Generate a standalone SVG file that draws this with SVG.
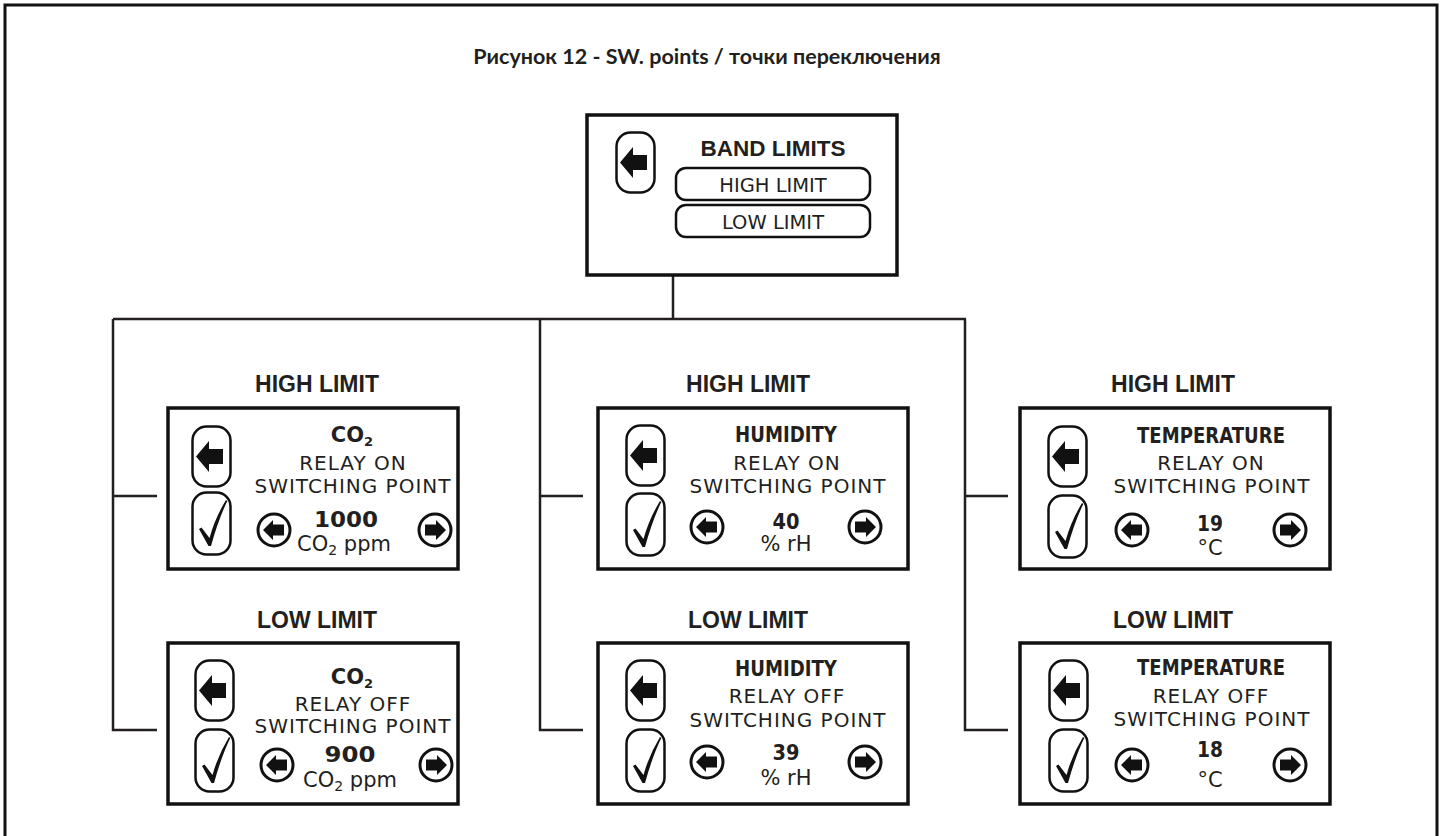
<svg xmlns="http://www.w3.org/2000/svg" xmlns:xlink="http://www.w3.org/1999/xlink" width="1448" height="836" viewBox="0 0 1448 836">
<style>
.frame{fill:none;stroke:#111;stroke-width:3}
.box{fill:#fff;stroke:#111;stroke-width:3.5}
.conn{fill:none;stroke:#231f20;stroke-width:2.5}
.btn{fill:#fff;stroke:#111;stroke-width:2.5}
.ink{fill:#111}
.title{font-family:Lato,"Liberation Sans",sans-serif;font-weight:bold;font-size:21.5px;fill:#231f20;text-anchor:middle}
.lbl{font-family:"Liberation Sans",Arial,sans-serif;font-weight:bold;font-size:23px;fill:#231f20;text-anchor:middle}
.hd{font-family:"Liberation Sans",Arial,sans-serif;font-weight:bold;font-size:22.5px;fill:#231f20;text-anchor:middle}
.cb{font-family:"DejaVu Sans",sans-serif;font-weight:bold;font-size:21px;fill:#231f20;text-anchor:middle}
.val{font-family:"DejaVu Sans",sans-serif;font-weight:bold;font-size:21px;fill:#231f20;text-anchor:middle}
.rg{font-family:"DejaVu Sans",sans-serif;font-size:20px;letter-spacing:1px;fill:#231f20;text-anchor:middle}
.un{font-family:"DejaVu Sans",sans-serif;font-size:21px;fill:#231f20;text-anchor:middle}
.pl{font-family:"DejaVu Sans",sans-serif;font-size:19.5px;fill:#231f20;text-anchor:middle}
</style>
<defs>
<symbol id="back" viewBox="0 0 41 63" width="41" height="63" overflow="visible">
<rect class="btn" x="1.5" y="1.5" width="38" height="60" rx="14"/>
<polygon class="ink" points="5,31.5 18,16 18,24 32,24 32,39 18,39 18,47"/>
</symbol>
<symbol id="check" viewBox="0 0 41 65" width="41" height="65" overflow="visible">
<rect class="btn" x="1.5" y="1.5" width="38" height="62" rx="14"/>
<path class="ink" d="M8,38 L10.5,36.5 L18.5,47 Q24,27 35,9 L36.3,10 Q27.5,28 20,55 L17.5,55 Z"/>
</symbol>
<symbol id="cl" viewBox="-18 -18 36 36" width="36" height="36" overflow="visible">
<circle cx="0" cy="0" r="16" fill="#fff" stroke="#111" stroke-width="3"/>
<polygon class="ink" points="-11,0 -1,-10 -1,-5.5 10,-5.5 10,5.5 -1,5.5 -1,10"/>
</symbol>
<symbol id="cr" viewBox="-18 -18 36 36" width="36" height="36" overflow="visible">
<circle cx="0" cy="0" r="16" fill="#fff" stroke="#111" stroke-width="3"/>
<polygon class="ink" points="11,0 1,-10 1,-5.5 -10,-5.5 -10,5.5 1,5.5 1,10"/>
</symbol>
</defs>
<rect width="1448" height="836" fill="#fff"/>
<rect class="frame" x="5" y="5" width="1432" height="850"/>
<text class="title" x="707" y="64">Рисунок 12 - SW. points / точки переключения</text>

<g id="connectors">
<line class="conn" x1="673" y1="275" x2="673" y2="319"/>
<line class="conn" x1="113" y1="319" x2="966" y2="319"/>
<polyline class="conn" points="157,496 113,496"/>
<polyline class="conn" points="113,319 113,730 157,730"/>
<polyline class="conn" points="583,496 540,496"/>
<polyline class="conn" points="540,319 540,730 583,730"/>
<polyline class="conn" points="1008,496 965,496"/>
<polyline class="conn" points="965,319 965,730 1008,730"/>
</g>

<g id="band-limits">
<rect class="box" x="587" y="115" width="310" height="160"/>
<use xlink:href="#back" x="615" y="129" width="41" height="67"/>
<text class="hd" x="773" y="156">BAND LIMITS</text>
<rect class="btn" x="676" y="168" width="194" height="32" rx="10"/>
<text class="pl" x="773" y="192">HIGH LIMIT</text>
<rect class="btn" x="676" y="205" width="194" height="32" rx="10"/>
<text class="pl" x="773" y="229">LOW LIMIT</text>
</g>

<g id="co2-high">
<text class="lbl" x="317" y="392">HIGH LIMIT</text>
<rect class="box" x="168" y="408" width="290" height="161"/>
<use xlink:href="#back" x="191" y="425"/>
<use xlink:href="#check" x="191" y="491"/>
<text class="cb" x="352" y="442">CO<tspan font-size="13" dy="4">2</tspan></text>
<text class="rg" x="353" y="470">RELAY ON</text>
<text class="rg" x="353" y="493">SWITCHING POINT</text>
<text class="val" x="346" y="527" textLength="64" lengthAdjust="spacingAndGlyphs">1000</text>
<text class="un" x="344" y="551">CO<tspan font-size="14" dy="4">2</tspan><tspan dy="-4"> ppm</tspan></text>
<use xlink:href="#cl" x="256" y="512"/>
<use xlink:href="#cr" x="417" y="512"/>
</g>

<g id="humidity-high">
<text class="lbl" x="748" y="392">HIGH LIMIT</text>
<rect class="box" x="598" y="408" width="310" height="161"/>
<use xlink:href="#back" x="625" y="424"/>
<use xlink:href="#check" x="625" y="492"/>
<text class="cb" x="786" y="442" textLength="102" lengthAdjust="spacingAndGlyphs">HUMIDITY</text>
<text class="rg" x="787" y="470">RELAY ON</text>
<text class="rg" x="788" y="493">SWITCHING POINT</text>
<text class="val" x="786" y="529" textLength="27" lengthAdjust="spacingAndGlyphs">40</text>
<text class="un" x="786" y="551">% rH</text>
<use xlink:href="#cl" x="689" y="509"/>
<use xlink:href="#cr" x="847" y="509"/>
</g>

<g id="temperature-high">
<text class="lbl" x="1173" y="392">HIGH LIMIT</text>
<rect class="box" x="1020" y="408" width="310" height="161"/>
<use xlink:href="#back" x="1047" y="425"/>
<use xlink:href="#check" x="1047" y="494"/>
<text class="cb" x="1211" y="443" textLength="148" lengthAdjust="spacingAndGlyphs">TEMPERATURE</text>
<text class="rg" x="1211" y="470">RELAY ON</text>
<text class="rg" x="1212" y="493">SWITCHING POINT</text>
<text class="val" x="1210" y="531" textLength="26" lengthAdjust="spacingAndGlyphs">19</text>
<text class="un" x="1210" y="555">°C</text>
<use xlink:href="#cl" x="1114" y="512"/>
<use xlink:href="#cr" x="1272" y="512"/>
</g>

<g id="co2-low">
<text class="lbl" x="317" y="628">LOW LIMIT</text>
<rect class="box" x="168" y="643" width="290" height="161"/>
<use xlink:href="#back" x="194" y="659"/>
<use xlink:href="#check" x="194" y="728"/>
<text class="cb" x="352" y="684">CO<tspan font-size="13" dy="4">2</tspan></text>
<text class="rg" x="353" y="711">RELAY OFF</text>
<text class="rg" x="353" y="733">SWITCHING POINT</text>
<text class="val" x="350" y="762" textLength="51" lengthAdjust="spacingAndGlyphs">900</text>
<text class="un" x="350" y="787">CO<tspan font-size="14" dy="4">2</tspan><tspan dy="-4"> ppm</tspan></text>
<use xlink:href="#cl" x="259" y="747"/>
<use xlink:href="#cr" x="418" y="747"/>
</g>

<g id="humidity-low">
<text class="lbl" x="748" y="628">LOW LIMIT</text>
<rect class="box" x="598" y="643" width="310" height="161"/>
<use xlink:href="#back" x="625" y="659"/>
<use xlink:href="#check" x="625" y="728"/>
<text class="cb" x="786" y="676" textLength="102" lengthAdjust="spacingAndGlyphs">HUMIDITY</text>
<text class="rg" x="787" y="703">RELAY OFF</text>
<text class="rg" x="788" y="727">SWITCHING POINT</text>
<text class="val" x="786" y="760" textLength="27" lengthAdjust="spacingAndGlyphs">39</text>
<text class="un" x="786" y="785">% rH</text>
<use xlink:href="#cl" x="689" y="744"/>
<use xlink:href="#cr" x="847" y="744"/>
</g>

<g id="temperature-low">
<text class="lbl" x="1173" y="628">LOW LIMIT</text>
<rect class="box" x="1020" y="643" width="310" height="161"/>
<use xlink:href="#back" x="1048" y="659"/>
<use xlink:href="#check" x="1048" y="728"/>
<text class="cb" x="1211" y="675" textLength="148" lengthAdjust="spacingAndGlyphs">TEMPERATURE</text>
<text class="rg" x="1211" y="703">RELAY OFF</text>
<text class="rg" x="1212" y="726">SWITCHING POINT</text>
<text class="val" x="1210" y="757" textLength="26" lengthAdjust="spacingAndGlyphs">18</text>
<text class="un" x="1210" y="787">°C</text>
<use xlink:href="#cl" x="1114" y="747"/>
<use xlink:href="#cr" x="1272" y="747"/>
</g>
</svg>
